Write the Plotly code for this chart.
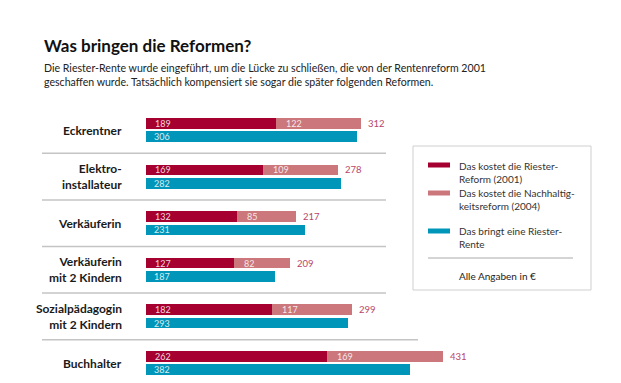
import plotly.graph_objects as go

categories = ["Eckrentner", "Elektro-<br>installateur", "Verkäuferin",
              "Verkäuferin<br>mit 2 Kindern", "Sozialpädagogin<br>mit 2 Kindern", "Buchhalter"]
riester_2001 = [189, 169, 132, 127, 182, 262]
nachhaltig_2004 = [122, 109, 85, 82, 117, 169]
kosten_gesamt = [312, 278, 217, 209, 299, 431]
riester_rente = [306, 282, 231, 187, 293, 382]

legend_labels = ["Das kostet die Riester-<br>Reform (2001)",
                 "Das kostet die Nachhaltig-<br>keitsreform (2004)",
                 "Das bringt eine Riester-<br>Rente"]

title = "Was bringen die Reformen?"
subtitle = ("Die Riester-Rente wurde eingeführt, um die Lücke zu schließen, die von der Rentenreform 2001<br>"
            "geschaffen wurde. Tatsächlich kompensiert sie sogar die später folgenden Reformen.")
note = "Alle Angaben in €"

RED = "#a5002f"
PINK = "#cb777c"
BLUE = "#0096ba"
TOTAL = "#b8466a"
FONT = "Lato"

# page body has an 8px margin; the figure is placed at (8,8)
OFF = 8
W, H = 621 - OFF, 383 - OFF
def X(px): return (px - OFF) / W
def Y(py): return 1 - (py - OFF) / H

n = len(categories)
y_red = [i - 0.144 for i in range(n)]
y_blue = [i + 0.144 for i in range(n)]
bw = 0.23
PXU = 0.69    # pixels per euro
PXC = 46.6    # pixels per category
Y0 = 130      # pixel of first category centre

fig = go.Figure()
fig.add_bar(x=riester_2001, y=y_red, base=0, orientation="h", width=bw,
            marker=dict(color=RED, line=dict(width=0)), showlegend=False, hoverinfo="skip")
fig.add_bar(x=nachhaltig_2004, y=y_red, base=riester_2001, orientation="h", width=bw,
            marker=dict(color=PINK, line=dict(width=0)), showlegend=False, hoverinfo="skip")
fig.add_bar(x=riester_rente, y=y_blue, base=0, orientation="h", width=bw,
            marker=dict(color=BLUE, line=dict(width=0)), showlegend=False, hoverinfo="skip")

ann = []
shapes = []
lblfont = dict(family=FONT, size=9, color="rgba(255,255,255,0.85)")
for i in range(n):
    ann.append(dict(x=0, y=y_red[i], xref="x", yref="y", text=str(riester_2001[i]), showarrow=False,
                    xanchor="left", xshift=7, font=lblfont))
    ann.append(dict(x=riester_2001[i], y=y_red[i], xref="x", yref="y", text=str(nachhaltig_2004[i]),
                    showarrow=False, xanchor="left", xshift=8, font=lblfont))
    ann.append(dict(x=kosten_gesamt[i], y=y_red[i], xref="x", yref="y", text=str(kosten_gesamt[i]),
                    showarrow=False, xanchor="left", xshift=5, font=dict(family=FONT, size=9.5, color=TOTAL)))
    ann.append(dict(x=0, y=y_blue[i], xref="x", yref="y", text=str(riester_rente[i]), showarrow=False,
                    xanchor="left", xshift=6, font=lblfont))
    ann.append(dict(x=X(124), y=i, xref="paper", yref="y", text="<b>" + categories[i] + "</b>",
                    showarrow=False, xanchor="right", align="right",
                    font=dict(family=FONT, size=12, color="#1a1a1a")))
    if i < n - 1:
        x1 = 386 if i < n - 2 else 418
        shapes.append(dict(type="line", xref="paper", yref="y", x0=X(42), x1=X(x1), y0=i + 0.5, y1=i + 0.5,
                           line=dict(color="#c4c4c4", width=1.5)))

# title & subtitle
ann.append(dict(x=X(42), y=Y(46), xref="paper", yref="paper", text="<b>" + title + "</b>", showarrow=False,
                xanchor="left", yanchor="middle", font=dict(family=FONT, size=17, color="#111")))
ann.append(dict(x=X(42), y=Y(75), xref="paper", yref="paper", text=subtitle, showarrow=False,
                xanchor="left", yanchor="middle", align="left",
                font=dict(family=FONT, size=10.6, color="#222")))

# legend box
shapes.append(dict(type="rect", xref="paper", yref="paper", x0=X(413), x1=X(591), y0=Y(146), y1=Y(290),
                   line=dict(color="#cfcfcf", width=1), fillcolor="white"))
legend_colors = [RED, PINK, BLUE]
sw_y = [165, 193, 231]
txt_y = [172, 199.5, 237]
for c, sy, ty, lab in zip(legend_colors, sw_y, txt_y, legend_labels):
    shapes.append(dict(type="rect", xref="paper", yref="paper", x0=X(428), x1=X(450), y0=Y(sy - 2.5),
                       y1=Y(sy + 2.5), line=dict(width=0), fillcolor=c))
    ann.append(dict(x=X(457), y=Y(ty), xref="paper", yref="paper", text=lab, showarrow=False,
                    xanchor="left", yanchor="middle", align="left",
                    font=dict(family=FONT, size=10, color="#333")))
shapes.append(dict(type="line", xref="paper", yref="paper", x0=X(428), x1=X(573), y0=Y(258), y1=Y(258),
                   line=dict(color="#aaaaaa", width=1)))
ann.append(dict(x=X(457), y=Y(276), xref="paper", yref="paper", text=note, showarrow=False,
                xanchor="left", yanchor="middle", font=dict(family=FONT, size=10, color="#222")))

fig.update_layout(
    width=W, height=H, margin=dict(l=0, r=0, t=0, b=0),
    paper_bgcolor="white", plot_bgcolor="rgba(0,0,0,0)",
    barmode="overlay", bargap=0,
    xaxis=dict(domain=[X(146), 1], range=[0, (621 - 146) / PXU], visible=False, fixedrange=True),
    yaxis=dict(domain=[0, 1], range=[(383 - Y0) / PXC, -(Y0 - OFF) / PXC], visible=False, fixedrange=True),
    annotations=ann, shapes=shapes, font=dict(family=FONT),
)
fig.write_html("out.html")
